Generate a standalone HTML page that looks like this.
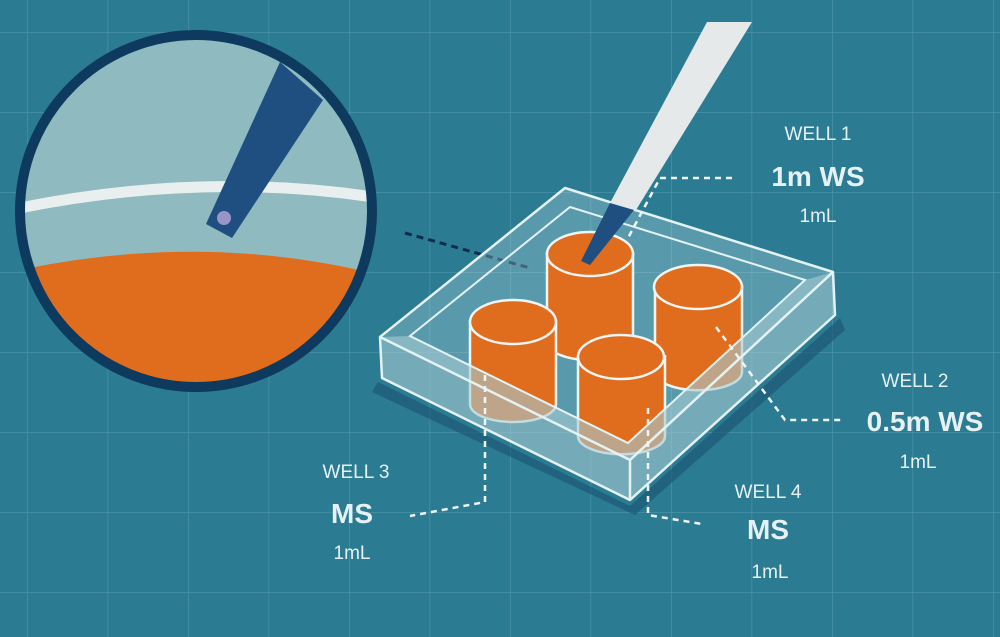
<!DOCTYPE html>
<html><head><meta charset="utf-8"><style>
html,body{margin:0;padding:0;background:#2b7b92;}
svg{display:block}
text{font-family:"Liberation Sans",sans-serif;fill:#e6f1f3;text-anchor:middle}
</style></head><body>
<svg width="1000" height="637" viewBox="0 0 1000 637" xmlns="http://www.w3.org/2000/svg">
<defs>
<pattern id="g" x="27" y="32" width="80.5" height="80" patternUnits="userSpaceOnUse">
<path d="M0 0V80M0 0H80.5" stroke="#4a92a6" stroke-width="1.5" fill="none"/>
</pattern>
<clipPath id="c"><circle cx="196" cy="211" r="176"/></clipPath>
</defs>
<rect width="1000" height="637" fill="#2b7b92"/>
<rect width="1000" height="637" fill="url(#g)"/>

<!-- magnified circle -->
<circle cx="196" cy="211" r="176" fill="#8fbac0"/>
<g clip-path="url(#c)">
<path d="M10 210 Q200 170 380 198" stroke="#e9eeee" stroke-width="11" fill="none"/>
<path d="M10 272 Q200 230 380 275 L380 400 L10 400Z" fill="#e06c1e"/>
<polygon points="280,62 323,100 232,238 206,224" fill="#1f4f80"/>
<circle cx="224" cy="218" r="7" fill="#b9a6d8" opacity="0.8"/>
</g>
<circle cx="196" cy="211" r="176" fill="none" stroke="#0d3a5e" stroke-width="10"/>

<!-- dark dashed line -->
<path d="M405 233 L530 268" stroke="#0d2e4a" stroke-width="3" stroke-dasharray="7,5" fill="none"/>

<!-- plate shadow -->
<polygon points="378,382 630,506 840,318 845,330 635,515 372,392" fill="#1e5a78" opacity="0.7"/>
<!-- plate top -->
<polygon points="380,337 565,188 833,272 630,460" fill="#bfe0e5" fill-opacity="0.3"/>

<!-- wells -->
<g stroke="#eef5f5" stroke-width="2.5">
<path d="M547 252 L547 342 A43 18 0 0 0 633 342 L633 252" fill="#e06c1e"/>
<ellipse cx="590" cy="254" rx="43" ry="22" fill="#e06c1e"/>
<path d="M655 285 L655 372 A43 18 0 0 0 742 372 L742 285" fill="#e06c1e"/>
<ellipse cx="698" cy="287" rx="44" ry="22" fill="#e06c1e"/>
<path d="M470 320 L470 404 A43 18 0 0 0 556 404 L556 320" fill="#e06c1e"/>
<ellipse cx="513" cy="322" rx="43" ry="22" fill="#e06c1e"/>
<path d="M578 355 L578 436 A43 18 0 0 0 665 436 L665 355" fill="#e06c1e"/>
<ellipse cx="621" cy="357" rx="43" ry="22" fill="#e06c1e"/>
</g>

<!-- muting overlay for lower wells / walls -->
<polygon points="380,337 410,336 628,443 805,280 833,272 835,315 630,500 382,378" fill="#a6cbd2" fill-opacity="0.6"/>
<path d="M380 337 L565 188 L833 272 L630 460 Z M380 337 L382 378 L630 500 L835 315 L833 272 M630 460 L630 500" stroke="#e4f2f4" stroke-width="2.5" fill="none" stroke-linejoin="round"/>
<polygon points="410,336 570,207 805,280 628,443" fill="none" stroke="#e4f2f4" stroke-width="2"/>

<!-- pipette -->
<polygon points="707,22 752,22 636,210 610,203" fill="#e6e9ea"/>
<polygon points="610,203 634,210 590,265 581,261" fill="#1f4f80"/>

<!-- dashed connectors -->
<g stroke="#eef5f5" stroke-width="2.5" stroke-dasharray="6,5" fill="none">
<path d="M732 178 L660 178 L628 238"/>
<path d="M716 327 L785 420 L842 420"/>
<path d="M485 375 L485 502 L410 516"/>
<path d="M648 408 L648 515 L702 524"/>
</g>

<!-- labels -->
<text x="818" y="140" font-size="19">WELL 1</text>
<text x="818" y="186" font-size="28" font-weight="bold">1m WS</text>
<text x="818" y="222" font-size="19">1mL</text>
<text x="915" y="387" font-size="19">WELL 2</text>
<text x="925" y="431" font-size="28" font-weight="bold">0.5m WS</text>
<text x="918" y="468" font-size="19">1mL</text>
<text x="356" y="478" font-size="19">WELL 3</text>
<text x="352" y="523" font-size="28" font-weight="bold">MS</text>
<text x="352" y="559" font-size="19">1mL</text>
<text x="768" y="498" font-size="19">WELL 4</text>
<text x="768" y="539" font-size="28" font-weight="bold">MS</text>
<text x="770" y="578" font-size="19">1mL</text>
</svg>
</body></html>
